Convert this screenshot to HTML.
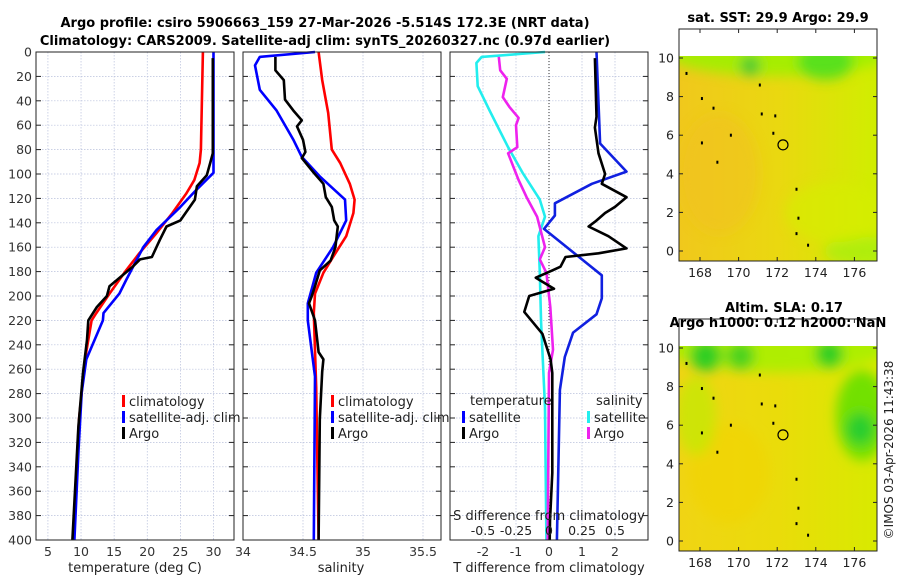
<!DOCTYPE html>
<html><head><meta charset="utf-8">
<style>
html,body{margin:0;padding:0;background:#fff;}
svg{display:block;font-family:"DejaVu Sans","Liberation Sans",sans-serif;}
</style></head>
<body>
<svg id="fig" width="900" height="580" viewBox="0 0 900 580" xmlns="http://www.w3.org/2000/svg">
<defs>
<filter id="blur4"><feGaussianBlur stdDeviation="6"/></filter>
<linearGradient id="sstH" x1="0" x2="1" y1="0" y2="0"><stop offset="0" stop-color="#f0c81c"/><stop offset="0.5" stop-color="#ead810"/><stop offset="1" stop-color="#d0ee00"/></linearGradient>
<linearGradient id="slaH" x1="0" x2="1" y1="0" y2="0"><stop offset="0" stop-color="#f0d414"/><stop offset="0.5" stop-color="#eadc0a"/><stop offset="1" stop-color="#d8ea00"/></linearGradient>
<clipPath id="clipTop"><rect x="679" y="56" width="198" height="205"/></clipPath>
<clipPath id="clipBot"><rect x="679" y="346" width="198" height="205"/></clipPath>
</defs>
<g id="maps"></g>
<g id="panels"></g>
<g id="titles" font-weight="bold" font-size="13" text-anchor="middle" fill="#000">
<text x="325" y="27">Argo profile: csiro 5906663_159 27-Mar-2026 -5.514S 172.3E (NRT data)</text>
<text x="325" y="45">Climatology: CARS2009. Satellite-adj clim: synTS_20260327.nc (0.97d earlier)</text>
<text x="778" y="22">sat. SST: 29.9 Argo: 29.9</text>
<text x="784" y="312">Altim. SLA: 0.17</text>
<text x="778" y="327">Argo h1000: 0.12 h2000: NaN</text>
</g>
<text transform="translate(893,450) rotate(-90)" font-size="12" text-anchor="middle" fill="#222">©IMOS 03-Apr-2026 11:43:38</text>
</svg>
<script>
// ---- data: depth (m) / value pairs ----
const depthTicks = [0,20,40,60,80,100,120,140,160,180,200,220,240,260,280,300,320,340,360,380,400];
const tempTicks = [5,10,15,20,25,30,35];
const salTicks = [34,34.5,35,35.5];
const salTickLabels = ["34","34.5","35","35.5"];
const tdiffTicks = [-2,-1,0,1,2];
const sdiffTicks = [-0.5,-0.25,0,0.25,0.5];
const sdiffTickLabels = ["-0.5","-0.25","0","0.25","0.5"];

const climTDepth = [0,80,91,105,116,132,149,165,179,198,214,220,252,301,400];
const climT      = [28.4,28.1,27.9,27.1,25.9,23.8,21.3,18.8,16.8,14.3,12.3,11.6,10.6,9.7,8.8];
const satTDepth  = [0,99,113,127,146,160,187,198,214,220,252,279,328,400];
const satT       = [30.0,30.0,27.4,25.0,21.4,19.4,16.8,15.8,13.4,13.3,10.8,10.1,9.6,9.0];
const argoTDepth = [5,83,91,101,110,121,138,143,154,168,170,176,192,200,209,220,236,263,307,400];
const argoT      = [29.9,29.9,29.5,29.0,27.5,27.2,25.0,22.9,21.9,20.7,18.9,17.8,14.3,13.9,12.4,11.1,10.9,10.3,9.6,8.7];

const climSDepth = [0,23,50,80,91,108,121,132,151,168,181,198,214,275,400];
const climS      = [34.63,34.66,34.71,34.74,34.81,34.89,34.93,34.92,34.86,34.75,34.67,34.60,34.59,34.61,34.63];
const satSDepth  = [0,4,11,31,48,72,86,102,121,138,160,181,206,220,266,400];
const satS       = [34.60,34.14,34.10,34.14,34.28,34.42,34.49,34.64,34.85,34.86,34.75,34.61,34.54,34.54,34.60,34.59];
const argoSDepth = [4,15,23,39,48,56,61,72,82,87,99,108,119,127,138,143,160,171,179,192,201,206,220,246,252,262,301,400];
const argoS      = [34.27,34.27,34.34,34.35,34.42,34.49,34.45,34.50,34.52,34.49,34.59,34.67,34.69,34.74,34.76,34.79,34.77,34.73,34.64,34.60,34.57,34.55,34.60,34.63,34.67,34.66,34.64,34.63];

const satTdDepth = [0,75,98,108,124,134,145,183,202,215,230,250,277,400];
const satTd      = [1.44,1.55,2.35,1.3,0.18,0.18,-0.15,1.6,1.6,1.44,0.73,0.48,0.33,0.24];
const argoTdDepth= [5,53,62,83,100,108,119,127,132,139,143,151,161,165,168,176,179,185,194,200,213,231,252,263,345,384,400];
const argoTd     = [1.39,1.44,1.39,1.5,1.7,1.6,2.35,2.0,1.7,1.4,1.2,1.8,2.35,1.5,0.5,0.35,0.1,-0.4,0.15,-0.6,-0.75,-0.2,0.05,0.1,0.1,0.03,0.02];
const satSdDepth = [0,4,9,28,48,78,99,121,135,151,181,222,291,400];
const satSd      = [-0.03,-0.51,-0.55,-0.54,-0.45,-0.31,-0.2,-0.07,-0.03,-0.08,-0.07,-0.06,-0.03,-0.02];
const argoSdDepth= [4,15,22,37,45,54,60,78,83,105,119,135,160,170,181,209,244,263,400];
const argoSd     = [-0.38,-0.37,-0.32,-0.35,-0.3,-0.23,-0.25,-0.24,-0.31,-0.23,-0.17,-0.09,-0.03,-0.07,-0.02,0.01,0.03,0.0,-0.01];

const NS="http://www.w3.org/2000/svg";
function mk(tag,attrs,parent){const e=document.createElementNS(NS,tag);for(const k in attrs)e.setAttribute(k,attrs[k]);parent.appendChild(e);return e;}
const panels=document.getElementById('panels');
const Y0=52,Y1=540;
const yScale=d=>Y0+d*(Y1-Y0)/400;

function panel(name,x0,x1,vmin,vmax){
  const g=mk('g',{},panels);
  
  
  const xs=v=>x0+(v-vmin)*(x1-x0)/(vmax-vmin);
  return {g,xs,x0,x1};
}
function frame(p,xticks,xlabels,labelY,showYLabels){
  const g=p.g;
  for(const d of depthTicks){
    const y=yScale(d);
    const gl=mk('line',{x1:p.x0,x2:p.x1,y1:y,y2:y,stroke:'#b8c0dc','stroke-width':0.7,'stroke-dasharray':'1.5,1.5'},g);
    
    
    mk('line',{x1:p.x0,x2:p.x0+5,y1:y,y2:y,stroke:'#222','stroke-width':1},g);
    mk('line',{x1:p.x1-5,x2:p.x1,y1:y,y2:y,stroke:'#222','stroke-width':1},g);
    if(showYLabels){
      const t=mk('text',{x:p.x0-4,y:y+4.5,'font-size':12.5,'text-anchor':'end',fill:'#333'},g);
      t.textContent=d;
      
      
    }
  }
  xticks.forEach((v,i)=>{
    const x=p.xs(v);
    if(x<p.x0-0.5||x>p.x1+0.5)return;
    mk('line',{x1:x,x2:x,y1:Y0,y2:Y1,stroke:'#b8c0dc','stroke-width':0.7,'stroke-dasharray':'1.5,1.5'},g);
    const t=mk('text',{x:x,y:labelY,'font-size':12.5,'text-anchor':'middle',fill:'#333'},g);
    t.textContent=xlabels[i];
    
    
  });
}
function line(p,depths,vals,color,name,scale){
  const pts=depths.map((d,i)=>(scale?scale(vals[i]):p.xs(vals[i])).toFixed(1)+','+yScale(d).toFixed(1)).join(' ');
  const pl=mk('polyline',{points:pts,fill:'none',stroke:color,'stroke-width':2.6,'stroke-linejoin':'round'},p.g);
  
  
}
function box(p){mk('rect',{x:p.x0,y:Y0,width:p.x1-p.x0,height:Y1-Y0,fill:'none',stroke:'#222','stroke-width':1},p.g);}
function txt(g,x,y,s,name,opts){const t=mk('text',Object.assign({x:x,y:y,'font-size':13,fill:'#222'},opts||{}),g);t.textContent=s;return t;}
function legend(g,x,y,entries){
  entries.forEach((e,i)=>{
    const yy=y+i*16;
    const r=mk('rect',{x:x,y:yy-10,width:3,height:12,fill:e[1]},g);
    
    
    txt(g,x+7,yy+1,e[0],'legend-entry');
  });
}

// Panel 1 temperature
const p1=panel('temperature-panel',36,234,3.2,33.1);
frame(p1,tempTicks,tempTicks.map(String),556,true);
line(p1,climTDepth,climT,'#f00','climatology-temperature-line');
line(p1,satTDepth,satT,'#00f','satellite-temperature-line');
line(p1,argoTDepth,argoT,'#000','argo-temperature-line');
box(p1);
legend(p1.g,122,405,[['climatology','#f00'],['satellite-adj. clim','#00f'],['Argo','#000']]);
txt(p1.g,135,572,'temperature (deg C)','x-axis-title',{'text-anchor':'middle'});

// Panel 2 salinity
const p2=panel('salinity-panel',243,441,34,35.65);
frame(p2,salTicks,salTickLabels,556,false);
line(p2,climSDepth,climS,'#f00','climatology-salinity-line');
line(p2,satSDepth,satS,'#00f','satellite-salinity-line');
line(p2,argoSDepth,argoS,'#000','argo-salinity-line');
box(p2);
legend(p2.g,331,405,[['climatology','#f00'],['satellite-adj. clim','#00f'],['Argo','#000']]);
txt(p2.g,341,572,'salinity','x-axis-title',{'text-anchor':'middle'});

// Panel 3 differences
const p3=panel('difference-panel',450,648,-3,3);
frame(p3,tdiffTicks,tdiffTicks.map(String),556,false);
const zx=p3.xs(0);
mk('line',{x1:zx,x2:zx,y1:Y0,y2:Y1,stroke:'#333','stroke-width':1,'stroke-dasharray':'1,2'},p3.g);
const sScale=v=>p3.xs(v*4);
line(p3,satSdDepth,satSd,'#22eeee','satellite-salinity-diff-line',sScale);
line(p3,argoSdDepth,argoSd,'#ee22ee','argo-salinity-diff-line',sScale);
line(p3,satTdDepth,satTd,'#1020e0','satellite-temperature-diff-line');
line(p3,argoTdDepth,argoTd,'#000','argo-temperature-diff-line');
box(p3);
txt(p3.g,470,405,'temperature','legend-title');
txt(p3.g,596,405,'salinity','legend-title');
legend(p3.g,462,421,[['satellite','#00f'],['Argo','#000']]);
legend(p3.g,587,421,[['satellite','#22eeee'],['Argo','#ee22ee']]);
txt(p3.g,549,520,'S difference from climatology','s-axis-title',{'text-anchor':'middle'});
sdiffTicks.forEach((v,i)=>{txt(p3.g,sScale(v),535,sdiffTickLabels[i],'s-tick-label',{'text-anchor':'middle','font-size':12.5});});
txt(p3.g,549,572,'T difference from climatology','x-axis-title',{'text-anchor':'middle'});

// ---- maps ----
const lonTicks=[168,170,172,174,176];
const latTicks=[0,2,4,6,8,10];
const floatLon=172.3, floatLat=5.5;
const coastLon=[167.3,168.1,168.7,169.6,171.1,171.2,171.9,171.8,173.0,173.1,173.0,173.6,168.1,168.9];
const coastLat=[9.2,7.9,7.4,6.0,8.6,7.1,7.0,6.1,3.2,1.7,0.9,0.3,5.6,4.6];
const maps=document.getElementById('maps');
function map(name,top,bot,grad,blobs,clip){
  const g=mk('g',{},maps);
  
  
  const x0=679,x1=877;
  const lx=v=>700+(v-168)*19.3;
  const latY=v=>(top+2)+(10-v)*19.3;
  const cg=mk('g',{'clip-path':'url(#'+clip+')'},g);
  mk('rect',{x:x0,y:top,width:x1-x0,height:bot-top,fill:'url(#'+grad+')'},cg);
  const bg=mk('g',{filter:'url(#blur4)'},cg);
  blobs.forEach(b=>{mk('ellipse',{cx:lx(b[0]),cy:latY(b[1]),rx:b[2],ry:b[3],fill:b[4],opacity:b[5]},bg);});
  coastLon.forEach((v,i)=>{
    const c=mk('rect',{x:lx(v)-1,y:latY(coastLat[i])-1.5,width:2,height:3,fill:'#000'},cg);
    
    
  });
  const fc=mk('circle',{cx:lx(floatLon),cy:latY(floatLat),r:5,fill:'none',stroke:'#000','stroke-width':1.2},cg);
  
  
  mk('rect',{x:x0,y:top-27,width:x1-x0,height:bot-top+27,fill:'none',stroke:'#222','stroke-width':1},g);
  lonTicks.forEach(v=>{
    const x=lx(v);
    mk('line',{x1:x,x2:x,y1:bot,y2:bot-4,stroke:'#222'},g);
    mk('line',{x1:x,x2:x,y1:top-27,y2:top-23,stroke:'#222'},g);
    txt(g,x,bot+16,String(v),'lon-tick-label',{'text-anchor':'middle','font-size':12.5});
  });
  latTicks.forEach(v=>{
    const y=latY(v);
    mk('line',{x1:x0,x2:x0+4,y1:y,y2:y,stroke:'#222'},g);
    mk('line',{x1:x1-4,x2:x1,y1:y,y2:y,stroke:'#222'},g);
    txt(g,x0-5,y+4.5,String(v),'lat-tick-label',{'text-anchor':'end','font-size':12.5});
  });
}
map('sst-map',56,261,'sstH',[
  [172,10.2,110,22,'#9ef000',0.9],[174.5,9.8,28,18,'#44dd22',0.8],[170.6,9.6,10,10,'#22bb44',0.7],
  [176.5,0,40,14,'#a8ee10',0.8],[175,2,50,30,'#d6ee00',0.6],[169,4,40,60,'#f2c020',0.5]
],'clipTop');
map('sla-map',346,551,'slaH',[
  [172,10.3,120,30,'#a8f000',0.9],[168.3,9.6,16,16,'#22cc22',0.9],[170.1,9.6,14,14,'#33cc22',0.8],
  [174.7,9.7,14,14,'#22cc22',0.9],[176.4,6.5,26,45,'#66e000',0.9],[176.3,5.8,14,16,'#22cc33',0.9],
  [169.5,3.5,40,50,'#f2d400',0.6],[167.8,6.5,20,40,'#b8ee00',0.6]
],'clipBot');
</script>
</body></html>
